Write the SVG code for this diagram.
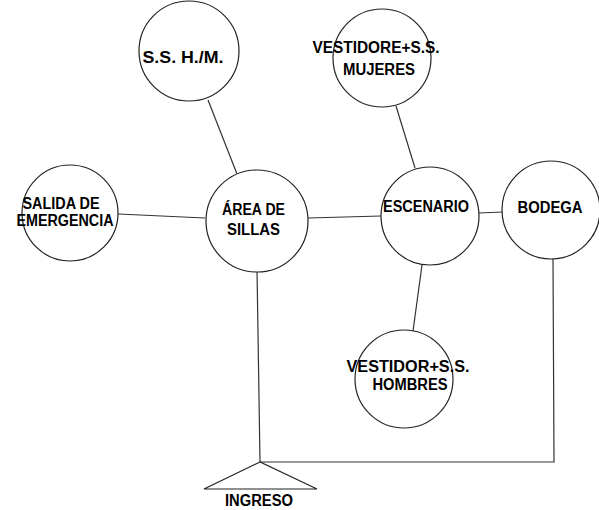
<svg xmlns="http://www.w3.org/2000/svg" width="599" height="510" viewBox="0 0 599 510">
<style>
.n{fill:#fff;stroke:#222;stroke-width:1.2}
.c{fill:none;stroke:#333;stroke-width:1.2}
.t{font-family:"Liberation Sans",Arial,sans-serif;font-size:16px;font-weight:bold;fill:#000;text-anchor:middle}
</style>
<rect width="599" height="510" fill="#fff"/>
<g id="connectors">
<line class="c" x1="208" y1="100" x2="237" y2="174"/>
<line class="c" x1="396" y1="106" x2="415" y2="168"/>
<line class="c" x1="118" y1="214" x2="205" y2="218"/>
<line class="c" x1="308" y1="218" x2="381" y2="216"/>
<line class="c" x1="478" y1="213" x2="503" y2="212"/>
<line class="c" x1="422" y1="265" x2="413" y2="331"/>
<polyline class="c" points="257,269 260,462 554,462 553,259"/>
</g>
<g id="ss-hm"><circle class="n" cx="189" cy="51" r="50"/><text class="t" x="183" y="63" textLength="81" lengthAdjust="spacingAndGlyphs">S.S. H./M.</text></g>
<g id="vestidore-mujeres"><circle class="n" cx="382" cy="58" r="49"/><text class="t" x="376" y="53" textLength="127" lengthAdjust="spacingAndGlyphs">VESTIDORE+S.S.</text><text class="t" x="379" y="75" textLength="72" lengthAdjust="spacingAndGlyphs">MUJERES</text></g>
<g id="salida"><circle class="n" cx="70" cy="213" r="48"/><text class="t" x="61" y="209" textLength="77" lengthAdjust="spacingAndGlyphs">SALIDA DE</text><text class="t" x="65" y="226" textLength="97" lengthAdjust="spacingAndGlyphs">EMERGENCIA</text></g>
<g id="area-sillas"><circle class="n" cx="257" cy="221" r="51"/><text class="t" x="253.5" y="215" textLength="63" lengthAdjust="spacingAndGlyphs">ÁREA DE</text><text class="t" x="253.5" y="235" textLength="53" lengthAdjust="spacingAndGlyphs">SILLAS</text></g>
<g id="escenario"><circle class="n" cx="430" cy="216" r="49"/><text class="t" x="426" y="212" textLength="86" lengthAdjust="spacingAndGlyphs">ESCENARIO</text></g>
<g id="bodega"><circle class="n" cx="551" cy="210" r="49"/><text class="t" x="550" y="213" textLength="65" lengthAdjust="spacingAndGlyphs">BODEGA</text></g>
<g id="vestidor-hombres"><circle class="n" cx="404" cy="379" r="49"/><text class="t" x="408" y="372" textLength="123" lengthAdjust="spacingAndGlyphs">VESTIDOR+S.S.</text><text class="t" x="410" y="390" textLength="75" lengthAdjust="spacingAndGlyphs">HOMBRES</text></g>
<g id="ingreso"><polygon class="n" points="260,462 204,489 317,489"/><text class="t" x="259" y="506" textLength="68" lengthAdjust="spacingAndGlyphs">INGRESO</text></g>
</svg>
